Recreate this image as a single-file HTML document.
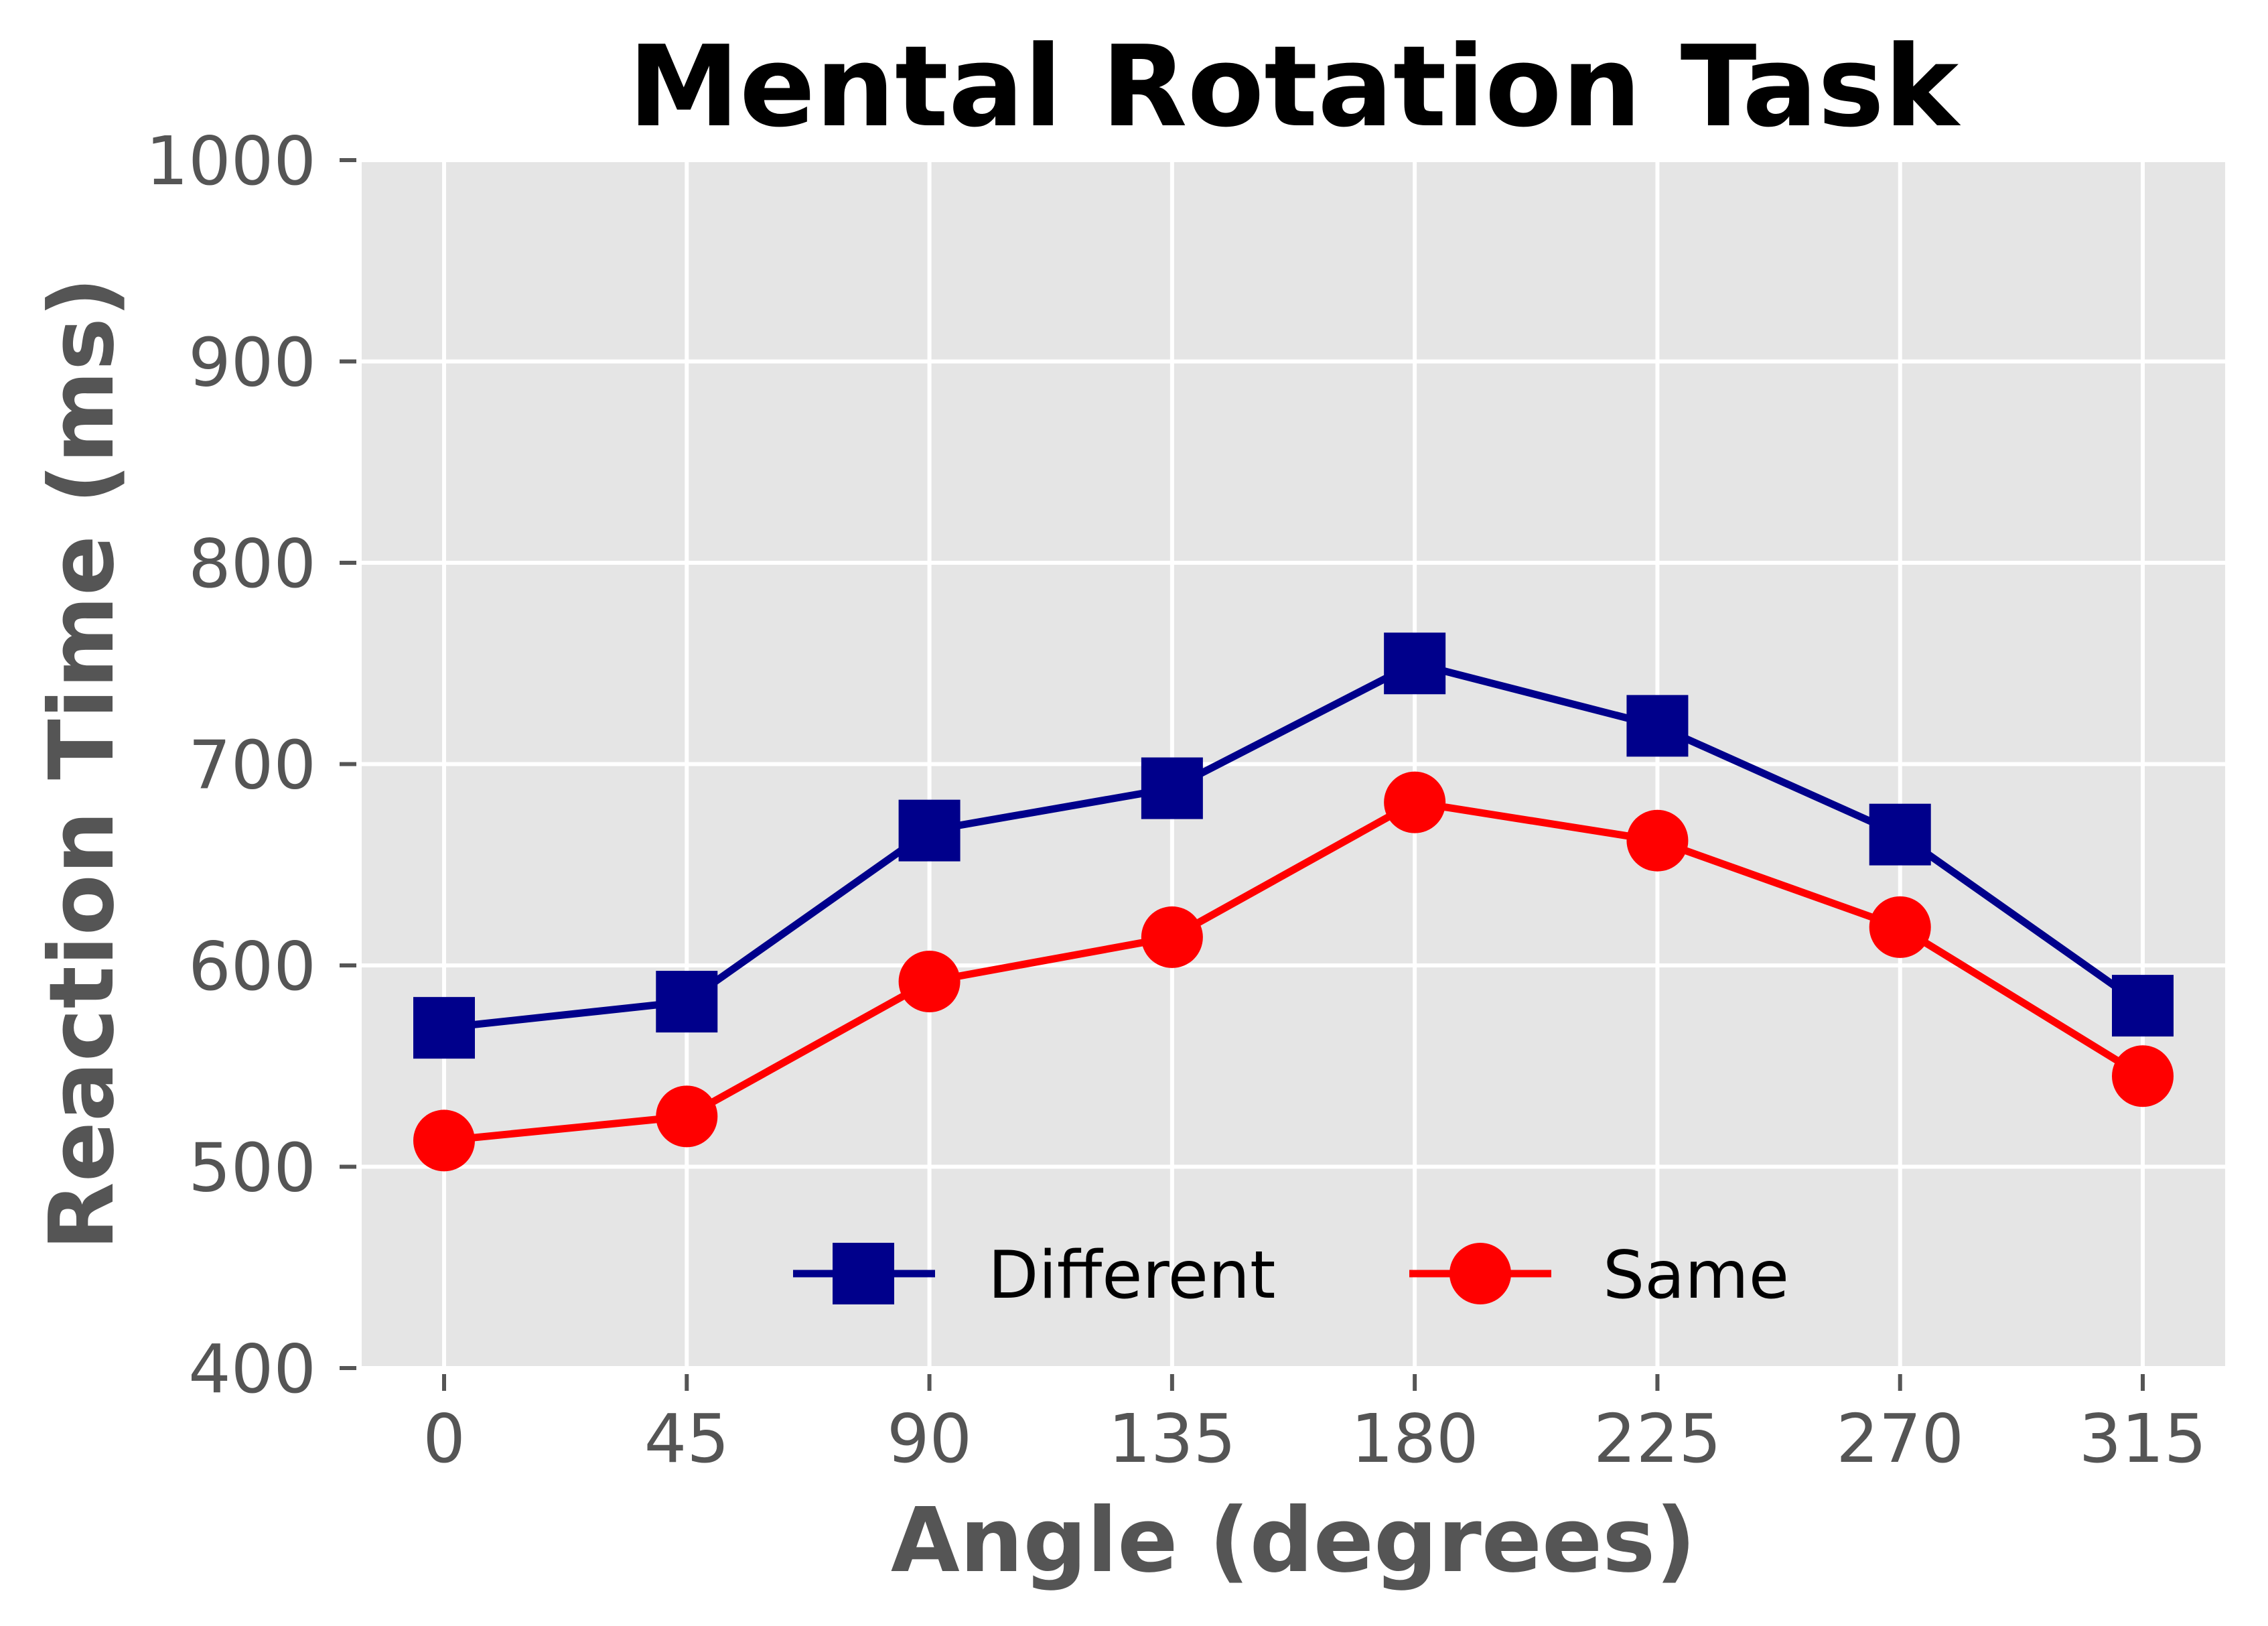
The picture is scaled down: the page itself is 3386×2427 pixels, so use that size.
<!DOCTYPE html>
<html><head><meta charset="utf-8"><style>
html,body{margin:0;padding:0;background:#fff}
svg{display:block}
text{font-family:"DejaVu Sans","Liberation Sans",sans-serif}
</style></head><body>
<svg id="chart" width="3386" height="2427" viewBox="0 0 3386 2427" xmlns="http://www.w3.org/2000/svg">
<rect x="540" y="239" width="2782" height="1803" fill="#e5e5e5"/>
<g id="grid"></g>
<g id="axes"></g>
<g id="series"></g>
<text x="1931" y="187" text-anchor="middle" font-size="167" font-weight="bold" fill="#000">Mental Rotation Task</text>
<text x="1931" y="2345" text-anchor="middle" font-size="133" font-weight="bold" fill="#555">Angle (degrees)</text>
<text transform="translate(168,1140) rotate(-90)" text-anchor="middle" font-size="133" font-weight="bold" fill="#555">Reaction Time (ms)</text>
<g>
<g>
<line x1="1184" y1="1901" x2="1396" y2="1901" stroke="#00008b" stroke-width="11"/>
<rect x="1243" y="1855" width="92" height="92" fill="#00008b"/>
<text x="1475" y="1937" font-size="98" fill="#000">Different</text>
</g>
<g>
<line x1="2104" y1="1901" x2="2316" y2="1901" stroke="#ff0000" stroke-width="11"/>
<circle cx="2210" cy="1901" r="46" fill="#ff0000"/>
<text x="2393" y="1937" font-size="98" fill="#000">Same</text>
</g>
</g>
</svg>
<script>
const angles = [0, 45, 90, 135, 180, 225, 270, 315];
const differentRT = [569, 582, 667, 688, 750, 719, 665, 580];
const sameRT = [513, 525, 592, 614, 681, 662, 619, 545];
const yTicks = [400, 500, 600, 700, 800, 900, 1000];

const NS = 'http://www.w3.org/2000/svg';
const xs = v => 663 + (v - 0) * (3199 - 663) / 315;
const ys = v => 2042 - (v - 400) * (2042 - 239) / 600;
function mk(tag, attrs, parent) {
  const el = document.createElementNS(NS, tag);
  for (const k in attrs) el.setAttribute(k, attrs[k]);
  parent.appendChild(el);
  return el;
}
const grid = document.getElementById('grid');
const axes = document.getElementById('axes');
const series = document.getElementById('series');

yTicks.forEach(t => {
  const y = ys(t);
  const g = mk('line', {x1: 540, x2: 3322, y1: y, y2: y, stroke: '#fff', 'stroke-width': 6}, grid);
  
  
  const tk = mk('line', {x1: 507, x2: 532, y1: y, y2: y, stroke: '#555', 'stroke-width': 6}, axes);
  
  
  const tx = mk('text', {x: 472, y: y + 36, 'text-anchor': 'end', 'font-size': 100, fill: '#555'}, axes);
  tx.textContent = t;
  
  
});
angles.forEach(a => {
  const x = xs(a);
  const g = mk('line', {x1: x, x2: x, y1: 239, y2: 2042, stroke: '#fff', 'stroke-width': 6}, grid);
  
  
  const tk = mk('line', {x1: x, x2: x, y1: 2051, y2: 2076, stroke: '#555', 'stroke-width': 6}, axes);
  
  
  const tx = mk('text', {x: x, y: 2182, 'text-anchor': 'middle', 'font-size': 100, fill: '#555'}, axes);
  tx.textContent = a;
  
  
});

function drawSeries(vals, color, kind, name) {
  const pts = angles.map((a, i) => xs(a) + ',' + ys(vals[i])).join(' ');
  const pl = mk('polyline', {points: pts, fill: 'none', stroke: color, 'stroke-width': 11, 'stroke-linejoin': 'round'}, series);
  
  
  angles.forEach((a, i) => {
    let m;
    if (kind === 'square') {
      m = mk('rect', {x: xs(a) - 46, y: ys(vals[i]) - 46, width: 92, height: 92, fill: color}, series);
    } else {
      m = mk('circle', {cx: xs(a), cy: ys(vals[i]), r: 46, fill: color}, series);
    }
    
    
  });
}
drawSeries(differentRT, '#00008b', 'square', 'different');
drawSeries(sameRT, '#ff0000', 'circle', 'same');
</script>
</body></html>
